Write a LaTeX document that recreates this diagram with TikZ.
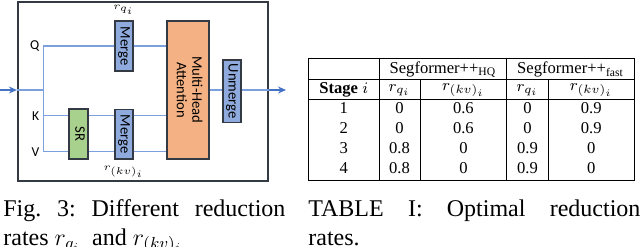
\documentclass[tikz,border=0pt]{standalone}
\usepackage{fontspec}
\setmainfont{Liberation Serif}
\newfontfamily\diagfont{Carlito}
\usetikzlibrary{arrows.meta,positioning}

\definecolor{mergeblue}{HTML}{8FAADC}
\definecolor{srgreen}{HTML}{A9D18E}
\definecolor{mhaorange}{HTML}{F4B183}
\definecolor{flowblue}{HTML}{4472C4}
\definecolor{wireblue}{HTML}{7C9FDD}
\definecolor{boxline}{HTML}{333A44}

\newcommand{\sideways}[1]{\rotatebox{-90}{\begin{tabular}{@{}c@{}}#1\end{tabular}}}

\begin{document}
\begin{tikzpicture}[x=0.5pt,y=-0.5pt,>=Stealth,
    blockbox/.style={draw=boxline,line width=0.9pt,inner sep=0pt,
      font=\diagfont\fontsize{7.3}{7.8}\selectfont},
    wire/.style={wireblue,line width=0.65pt},
    flow/.style={flowblue,line width=0.7pt,-{Stealth[length=4pt,width=3.5pt]}},
    letter/.style={font=\diagfont\fontsize{6.8}{7}\selectfont,inner sep=0.6pt},
    rate/.style={font=\fontsize{4.5}{5}\selectfont,inner sep=0.5pt},
    cell/.style={font=\fontsize{8.3}{9}\selectfont,inner sep=0pt},
    capline/.style={font=\fontsize{12}{14}\selectfont\frenchspacing,inner sep=0pt,anchor=base west}]
  \useasboundingbox (0,0) rectangle (640,246);

  % block diagram
  \node[draw=boxline,line width=0.8pt,minimum width=125pt,minimum height=89.5pt,inner sep=0pt]
    (frame) at (142.7,91.2) {};
  \node[blockbox,fill=mergeblue,minimum width=8.9pt,minimum height=24.8pt] (mergeq) at (123.8,46) {\sideways{Merge}};
  \node[blockbox,fill=mergeblue,minimum width=8.9pt,minimum height=24.8pt] (mergekv) at (123.8,134.2) {\sideways{Merge}};
  \node[blockbox,fill=srgreen,line width=1.1pt,minimum width=9.2pt,minimum height=25pt] (sr) at (78.5,134) {\sideways{SR}};
  \node[blockbox,fill=mhaorange,minimum width=21.2pt,minimum height=69pt] (mha) at (187.8,90) {\sideways{Multi-Head\\Attention}};
  \node[blockbox,fill=mergeblue,minimum width=9pt,minimum height=31.2pt] (unmerge) at (231.7,91.2) {\sideways{Unmerge}};

  \coordinate (input) at (0,90);
  \coordinate (output) at (286,90);
  \coordinate (split) at (43.3,90);
  \coordinate (qtap) at (43.3,46);
  \coordinate (ktap) at (43.3,115.7);
  \coordinate (vtap) at (43.3,151.7);

  \node[letter,left=1.2pt of qtap] (qlabel) {Q};
  \node[letter,left=1.2pt of ktap] (klabel) {K};
  \node[letter,left=1.2pt of vtap] (vlabel) {V};
  \node[rate,above=2pt of mergeq] (rq) {$r_{q_i}$};
  \node[rate,below=2.5pt of mergekv] (rkv) {$r_{(kv)_i}$};

  \draw[flow] (input) -- (input -| frame.west);
  \draw[wire] (input -| frame.west) -- (split);
  \draw[wire] (qtap) -- (vtap);
  \draw[wire] (qtap) -- (mergeq.west |- qtap);
  \draw[wire] (mergeq.east |- qtap) -- (mha.west |- qtap);
  \draw[wire] (ktap) -- (sr.west |- ktap);
  \draw[wire] (sr.east |- ktap) -- (mergekv.west |- ktap);
  \draw[wire] (mergekv.east |- ktap) -- (mha.west |- ktap);
  \draw[wire] (vtap) -- (sr.west |- vtap);
  \draw[wire] (sr.east |- vtap) -- (mergekv.west |- vtap);
  \draw[wire] (mergekv.east |- vtap) -- (mha.west |- vtap);
  \draw[wire] (mha.east |- split) -- (unmerge.west |- split);
  \draw[wire] (unmerge.east |- split) -- (split -| frame.east);
  \draw[flow] (split -| frame.east) -- (output);

  % table
  \draw[line width=0.45pt] (308.3,58.3) rectangle (634.3,180);
  \draw[line width=0.45pt] (308.3,79) -- (634.3,79) (308.3,99.3) -- (634.3,99.3);
  \foreach \cx in {379,506.7}
    \draw[line width=0.45pt] (\cx,58.3) -- (\cx,180);
  \foreach \cx in {420,548.3}
    \draw[line width=0.45pt] (\cx,79) -- (\cx,180);
  \node[cell] (hq) at (442.9,69.3) {Segformer++\textsubscript{HQ}};
  \node[cell] (fast) at (570.5,69.3) {Segformer++\textsubscript{fast}};
  \node[cell] (stage) at (343.7,90) {\textbf{Stage} $i$};
  \node[cell] (hqrq) at (399.5,90) {$r_{q_i}$};
  \node[cell] (hqrkv) at (463.4,90) {$r_{(kv)_i}$};
  \node[cell] (fastrq) at (527.5,90) {$r_{q_i}$};
  \node[cell] (fastrkv) at (591.3,90) {$r_{(kv)_i}$};
  \foreach \st/\a/\b/\c/\d [count=\k] in {1/0/0.6/0/0.9,2/0/0.6/0/0.9,3/0.8/0/0.9/0,4/0.8/0/0.9/0} {
    \node[cell] (st\k) at (343.7,88.3+20*\k) {\st};
    \node[cell] (a\k) at (399.5,88.3+20*\k) {\a};
    \node[cell] (b\k) at (463.4,88.3+20*\k) {\b};
    \node[cell] (c\k) at (527.5,88.3+20*\k) {\c};
    \node[cell] (d\k) at (591.3,88.3+20*\k) {\d};
  }

  % captions
  \node[capline] (figcap) at (3,216.7) {\makebox[141pt][s]{Fig. 3: Different reduction}};
  \node[capline] (figcaptwo) at (3,245) {rates $r_{q_i}$ \ and $r_{(kv)_i}$};
  \node[capline] (tabcap) at (308,216.7) {\makebox[166pt][s]{TABLE I: Optimal reduction}};
  \node[capline] (tabcaptwo) at (308,245) {rates.};
\end{tikzpicture}
\end{document}
